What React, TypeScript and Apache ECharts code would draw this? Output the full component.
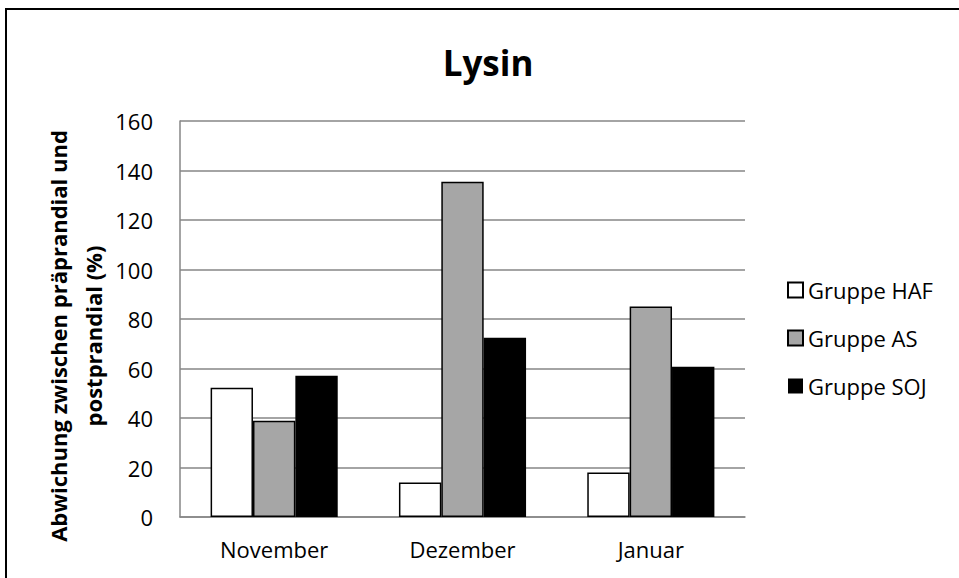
import React, { useEffect, useRef } from "react";
import * as echarts from "echarts";

const categories = ["November", "Dezember", "Januar"];
const seriesNames = ["Gruppe HAF", "Gruppe AS", "Gruppe SOJ"];
const hafValues = [52.2, 13.9, 18.0];
const asValues = [38.9, 135.5, 85.1];
const sojValues = [57.1, 72.4, 60.7];
const yTicks = { min: 0, max: 160, interval: 20 };
const titleText = "Lysin";
const yAxisTitle = "Abwichung zwischen präprandial und\npostprandial (%)";

const FONT = "'Open Sans', 'Noto Sans', sans-serif";

export default function App() {
  const ref = useRef<HTMLDivElement>(null);
  useEffect(() => {
    if (!ref.current) return;
    const chart = echarts.init(ref.current, undefined, { renderer: "svg" });
    const fills = ["#ffffff", "#a6a6a6", "#000000"];
    const data = [hafValues, asValues, sojValues];
    chart.setOption({
      animation: false,
      backgroundColor: "#ffffff",
      grid: { left: 180, right: 214, top: 121, bottom: 61, containLabel: false },
      legend: {
        orient: "vertical",
        left: 782,
        top: 274,
        itemWidth: 15,
        itemHeight: 15,
        itemGap: 26,
        icon: "rect",
        data: seriesNames,
        textStyle: { fontFamily: FONT, fontSize: 22, color: "#000", lineHeight: 22 },
      },
      xAxis: {
        type: "category",
        data: categories,
        axisLine: { lineStyle: { color: "#868686", width: 1.5 } },
        axisTick: { show: false },
        axisLabel: { fontFamily: FONT, fontSize: 22, color: "#000", margin: 21 },
      },
      yAxis: {
        type: "value",
        min: yTicks.min,
        max: yTicks.max,
        interval: yTicks.interval,
        axisLine: { show: true, lineStyle: { color: "#868686", width: 1.5 } },
        axisTick: { show: false },
        splitLine: { lineStyle: { color: "#868686", width: 1.5 } },
        axisLabel: { fontFamily: FONT, fontSize: 22, color: "#000", margin: 27 },
      },
      series: seriesNames.map((name, i) => ({
        name,
        type: "bar",
        data: data[i],
        barGap: "0%",
        barCategoryGap: "32.5%",
        itemStyle: {
          color: fills[i],
          borderColor: "#000",
          borderWidth: i === 2 ? 0 : 1.5,
        },
      })),
      graphic: [
        {
          type: "rect",
          shape: { x: 6, y: 9, width: 960, height: 600 },
          style: { fill: "none", stroke: "#000", lineWidth: 2 },
          silent: true,
        },
        {
          type: "text",
          x: 488,
          y: 62,
          style: {
            text: titleText,
            fontFamily: FONT,
            fontSize: 35,
            fontWeight: "bold",
            fill: "#000",
            align: "center",
            verticalAlign: "middle",
          },
        },
        {
          type: "text",
          x: 75,
          y: 336,
          rotation: Math.PI / 2,
          style: {
            text: yAxisTitle,
            fontFamily: FONT,
            fontSize: 22,
            fontWeight: "bold",
            lineHeight: 35,
            fill: "#000",
            align: "center",
            verticalAlign: "middle",
          },
        },
      ],
    });
    return () => chart.dispose();
  }, []);
  return (
    <div
      ref={ref}
      style={{ position: "fixed", left: 0, top: 0, width: 959, height: 578, background: "#fff" }}
    />
  );
}
